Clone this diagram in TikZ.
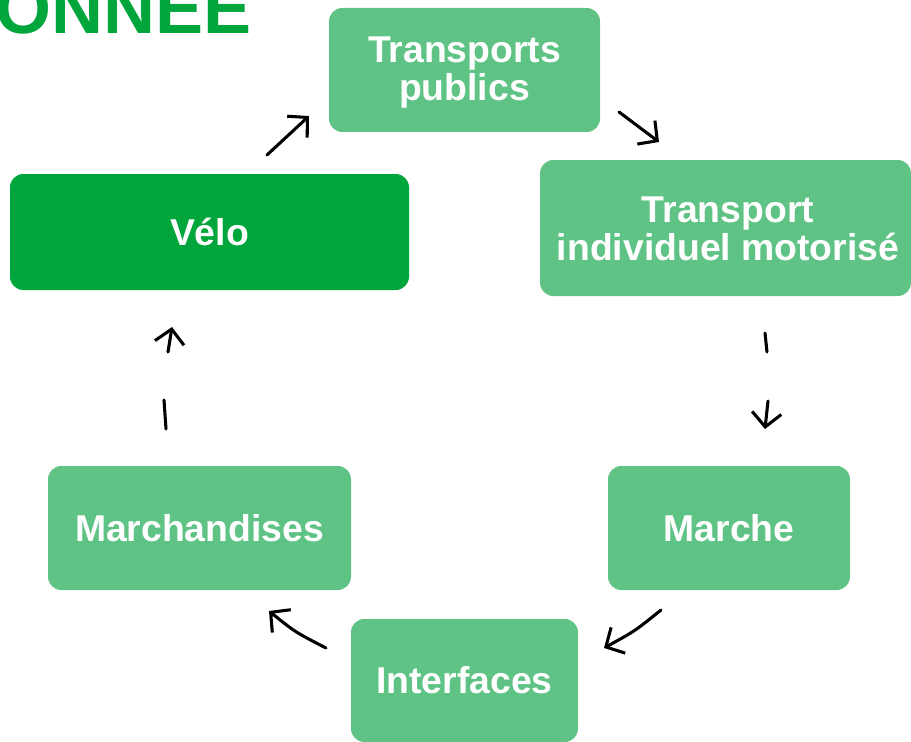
\documentclass[tikz,border=0pt]{standalone}
\usepackage{fontspec}
\setmainfont{Liberation Sans}
\usetikzlibrary{arrows.meta}
\definecolor{lgreen}{HTML}{5EC384}
\definecolor{dgreen}{HTML}{00A53B}
\begin{document}
\begin{tikzpicture}[x=0.75pt,y=-0.75pt,
  box/.style={fill=lgreen, draw=none, rounded corners=10pt, inner sep=0pt,
    text=white, align=center, font=\fontsize{28}{28.5}\selectfont\bfseries},
  boxtext/.style={inner sep=0pt, text=white, align=center, font=\fontsize{28}{28.5}\selectfont\bfseries},
  darkbox/.style={box, fill=dgreen},
  arr/.style={draw=black, line width=2.3pt, line cap=round, line join=round,
    -{Straight Barb[length=10.5pt,width=22pt,line width=2.3pt]}},
  seg/.style={draw=black, line width=2.3pt, line cap=round},
  ttl/.style={text=dgreen, font=\fontsize{54}{54}\selectfont\bfseries, inner sep=0pt}]
\useasboundingbox (0,0) rectangle (911,742);
\node[ttl, anchor=base east] (title) at (252,34) {ONNEE};
\node[box, minimum width=203.25pt, minimum height=93pt] (tp) at (464.5,70) {};
\node[boxtext] (tptext) at (464.5,72.5) {Transports\\publics};
\node[box, minimum width=278.25pt, minimum height=102pt] (tim) at (725.5,228) {};
\node[boxtext] (timtext) at (728,229) {Transport\\individuel motorisé};
\node[darkbox, minimum width=299.25pt, minimum height=87pt] (velo) at (209.5,232) {Vélo};
\node[box, minimum width=227.25pt, minimum height=93pt] (march) at (199.5,528) {Marchandises};
\node[box, minimum width=181.5pt, minimum height=93pt] (marche) at (729,528) {Marche};
\node[box, minimum width=170.25pt, minimum height=92.25pt] (inter) at (464.5,680.5) {Interfaces};
% arrow endpoints
\coordinate (a1s) at (267,155); \coordinate (a1e) at (309,116);
\coordinate (a2s) at (619,112); \coordinate (a2e) at (659,142);
\coordinate (a3a) at (765,333); \coordinate (a3b) at (767,352);
\coordinate (a3s) at (768,401); \coordinate (a3e) at (765,429);
\coordinate (a4s) at (661,610); \coordinate (a4e) at (604,648);
\coordinate (a5s) at (326,648); \coordinate (a5e) at (269,611);
\coordinate (a6a) at (166,429); \coordinate (a6b) at (164,400);
\coordinate (a6s) at (168,352); \coordinate (a6e) at (172,327);
\draw[arr] (a1s) -- (a1e);
\draw[arr] (a2s) -- (a2e);
\draw[seg] (a3a) -- (a3b);
\draw[arr] (a3s) -- (a3e);
\draw[arr] (a4s) .. controls (635,631) .. (a4e);
\draw[arr] (a5s) .. controls (295,632) .. (a5e);
\draw[seg] (a6a) -- (a6b);
\draw[arr] (a6s) -- (a6e);
\end{tikzpicture}
\end{document}
